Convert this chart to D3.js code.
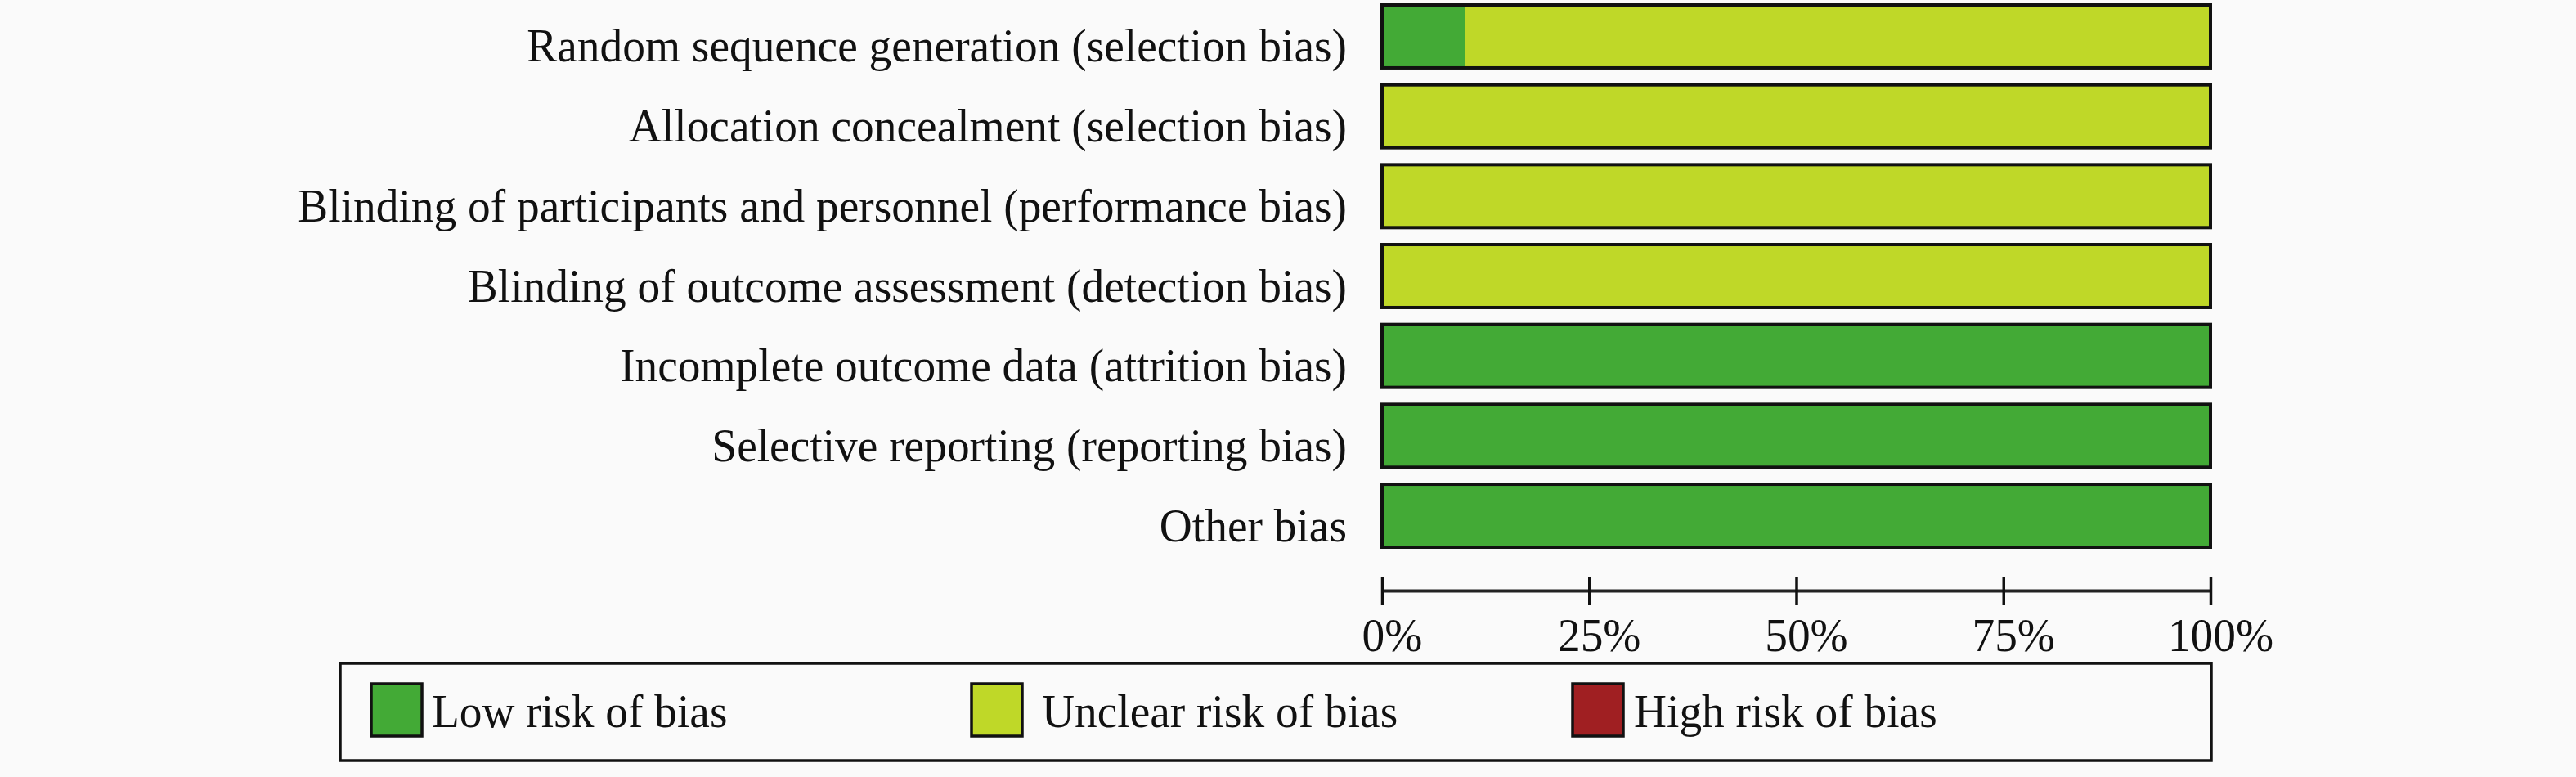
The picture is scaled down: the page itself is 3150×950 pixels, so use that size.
<!DOCTYPE html>
<html>
<head>
  <meta charset="utf-8">
  <script src="https://cdn.jsdelivr.net/npm/d3@7"></script>
  <title>Risk of bias graph</title>
  <style>
    body { margin: 0; background: #fafafa; }
    text { font-family: "Liberation Serif", "DejaVu Serif", serif; fill: #111; }
  </style>
</head>
<body>
  <div class="chart"></div>
  <script>
    // Risk of bias domains, percentage of studies in each judgement
    var domains = [
      "Random sequence generation (selection bias)",
      "Allocation concealment (selection bias)",
      "Blinding of participants and personnel (performance bias)",
      "Blinding of outcome assessment (detection bias)",
      "Incomplete outcome data (attrition bias)",
      "Selective reporting (reporting bias)",
      "Other bias"
    ];
    var lowRisk     = [10, 0, 0, 0, 100, 100, 100];
    var unclearRisk = [90, 100, 100, 100, 0, 0, 0];
    var highRisk    = [0, 0, 0, 0, 0, 0, 0];

    var judgements = ["low", "unclear", "high"];
    var judgementLabels = ["Low risk of bias", "Unclear risk of bias", "High risk of bias"];
    var tickValues = [0, 25, 50, 75, 100];

    var colors = { low: "#43aa36", unclear: "#bfd828", high: "#a01f22" };

    var width = 3150, height = 950;
    var fontSize = 58, squeeze = 0.955;

    var rows = domains.map(function(d, i) {
      return { domain: d, low: lowRisk[i], unclear: unclearRisk[i], high: highRisk[i] };
    });

    var x = d3.scaleLinear().domain([0, 100]).range([1690, 2703]);
    var y = d3.scaleBand().domain(domains).range([6, 669])
      .paddingInner(0.212).paddingOuter(0);

    var svg = d3.select(".chart").append("svg")
      .attr("width", width)
      .attr("height", height);

    svg.append("rect").attr("width", width).attr("height", height).attr("fill", "#fafafa");

    // stacked segments
    var stacked = d3.stack().keys(judgements)(rows);

    svg.append("g").selectAll("g")
      .data(stacked)
      .enter().append("g")
      .attr("fill", function(s) { return colors[s.key]; })
      .selectAll("rect")
      .data(function(s) { return s; })
      .enter().append("rect")
      .attr("x", function(d) { return x(d[0]); })
      .attr("y", function(d) { return y(d.data.domain); })
      .attr("width", function(d) { return x(d[1]) - x(d[0]); })
      .attr("height", y.bandwidth());

    // bar outlines
    svg.append("g").selectAll("rect")
      .data(rows)
      .enter().append("rect")
      .attr("x", x(0))
      .attr("y", function(d) { return y(d.domain); })
      .attr("width", x(100) - x(0))
      .attr("height", y.bandwidth())
      .attr("fill", "none")
      .attr("stroke", "#111")
      .attr("stroke-width", 4);

    // domain labels (Times looks a little narrower in the original)
    svg.append("g").selectAll("g")
      .data(rows)
      .enter().append("g")
      .attr("transform", function(d) {
        return "translate(1647," + (y(d.domain) + y.bandwidth() / 2 + 31) + ") scale(" + squeeze + ",1)";
      })
      .append("text")
      .attr("text-anchor", "end")
      .attr("font-size", fontSize)
      .text(function(d) { return d.domain; });

    // percentage axis
    var axis = d3.axisBottom(x)
      .tickValues(tickValues)
      .tickSize(0)
      .tickFormat(function(d) { return d + "%"; });

    var gx = svg.append("g").attr("transform", "translate(0,722)").call(axis);
    gx.select(".domain").attr("stroke", "#222").attr("stroke-width", 4);
    gx.selectAll(".tick line").remove();
    gx.selectAll(".tick").append("line")
      .attr("y1", -17).attr("y2", 18)
      .attr("stroke", "#111").attr("stroke-width", 3.5);
    gx.selectAll(".tick text").remove();
    gx.selectAll(".tick").append("g")
      .attr("transform", "translate(12,74) scale(" + squeeze + ",1)")
      .append("text")
      .attr("text-anchor", "middle")
      .attr("font-size", fontSize)
      .text(function(d) { return d + "%"; });

    // legend
    var legendX = [454, 1188, 1923];
    var legendTextX = [74, 86, 75];
    svg.append("rect")
      .attr("x", 416).attr("y", 811)
      .attr("width", 2704 - 416).attr("height", 930 - 811)
      .attr("fill", "none").attr("stroke", "#111").attr("stroke-width", 3.5);

    var items = svg.append("g").selectAll("g")
      .data(judgements)
      .enter().append("g")
      .attr("transform", function(d, i) { return "translate(" + legendX[i] + ",836)"; });

    items.append("rect")
      .attr("width", 62).attr("height", 64)
      .attr("fill", function(d) { return colors[d]; })
      .attr("stroke", "#111").attr("stroke-width", 3.5);

    items.append("g")
      .attr("transform", function(d, i) { return "translate(" + legendTextX[i] + ",53) scale(" + squeeze + ",1)"; })
      .append("text")
      .attr("font-size", fontSize)
      .text(function(d, i) { return judgementLabels[i]; });
  </script>
</body>
</html>
